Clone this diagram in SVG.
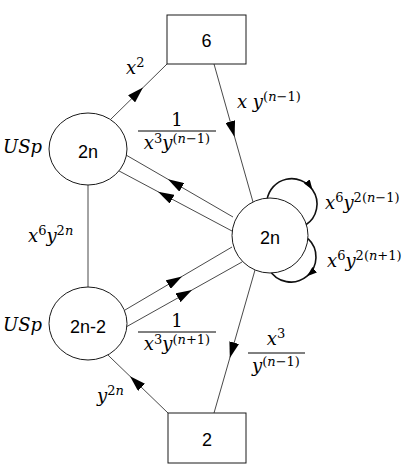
<svg xmlns="http://www.w3.org/2000/svg" width="415" height="476" viewBox="0 0 415 476">
<style>
.bg{fill:#fff}
.e{fill:none;stroke:#1a1a1a;stroke-width:0.8}
.lp{fill:none;stroke:#111;stroke-width:1.6}
.nd{fill:#fff;stroke:#1a1a1a;stroke-width:1}
.nt{font-family:"Liberation Sans",Arial,sans-serif;font-size:18px;fill:#000;text-anchor:middle}
.m{font-family:"DejaVu Serif",serif;font-size:18px;font-style:italic;fill:#000}
.u{font-style:normal}
.s{font-size:13px}
.fl{stroke:#000;stroke-width:1}
</style>
<defs>
<marker id="a" viewBox="0 0 16 10" refX="16" refY="5" markerWidth="16" markerHeight="10" markerUnits="userSpaceOnUse" orient="auto"><path d="M0,0 L16,5 L0,10 z" fill="#000"/></marker>
<marker id="b" viewBox="0 0 10 7" refX="10" refY="3.5" markerWidth="10" markerHeight="7" markerUnits="userSpaceOnUse" orient="auto"><path d="M0,0 L10,3.5 L0,7 z" fill="#000"/></marker>
</defs>
<rect class="bg" x="0" y="0" width="415" height="476"/>
<g id="connectors">
<path class="e" d="M111,119 L143,87.6 L167,64" marker-mid="url(#a)"/>
<path class="e" d="M214,64 L234.6,137 L253,202" marker-mid="url(#a)"/>
<path class="e" d="M233,217 L168,179.3 L126,155" marker-mid="url(#a)"/>
<path class="e" d="M232,231 L158,191.7 L118.4,170.6" marker-mid="url(#a)"/>
<path class="e" d="M125,310 L182,276.4 L232,247" marker-mid="url(#a)"/>
<path class="e" d="M126,327 L192,290 L242,262" marker-mid="url(#a)"/>
<path class="e" d="M255,270 L229.8,358 L214,413" marker-mid="url(#a)"/>
<path class="e" d="M168,413 L130,376.3 L107.8,354.9" marker-mid="url(#a)"/>
<path class="e" d="M88,185 L88,287"/>
<path class="lp" d="M267,200 A25,25 0 0 1 312.5,189.7 A25,25 0 0 1 305.6,225" marker-mid="url(#b)"/>
<path class="lp" d="M308,238.7 A25,25 0 0 1 307,276.2 A25,25 0 0 1 269,269.1" marker-mid="url(#b)"/>
</g>
<g id="n6"><rect class="nd" x="167" y="15" width="79" height="49"/><text class="nt" x="206.5" y="47">6</text></g>
<g id="n2"><rect class="nd" x="168" y="413" width="78" height="50"/><text class="nt" x="207" y="446">2</text></g>
<g id="usp1"><ellipse class="nd" cx="88" cy="149" rx="39" ry="36"/><text class="nt" x="88" y="158">2n</text></g>
<g id="usp2"><ellipse class="nd" cx="88" cy="323.5" rx="39" ry="36.5"/><text class="nt" x="88" y="333">2n-2</text></g>
<g id="n2nr"><ellipse class="nd" cx="270" cy="235.5" rx="38" ry="37.5"/><text class="nt" x="270" y="244">2n</text></g>
<g id="labels">
<text class="m" x="3" y="153">USp</text>
<text class="m" x="3" y="331">USp</text>
<text class="m" x="126" y="74">x<tspan class="s u" dy="-7">2</tspan></text>
<text class="m" x="237" y="108">x y<tspan class="s" dy="-7"><tspan class="u">(</tspan>n<tspan class="u">−1)</tspan></tspan></text>
<text class="m u" x="177" y="126" text-anchor="middle">1</text>
<line class="fl" x1="138" y1="131" x2="216" y2="131"/>
<text class="m" x="177" y="149" text-anchor="middle">x<tspan class="s u" dy="-6">3</tspan><tspan dy="6">y</tspan><tspan class="s" dy="-6"><tspan class="u">(</tspan>n<tspan class="u">−1)</tspan></tspan></text>
<text class="m" x="325" y="209">x<tspan class="s u" dy="-7">6</tspan><tspan dy="7">y</tspan><tspan class="s" dy="-7"><tspan class="u">2(</tspan>n<tspan class="u">−1)</tspan></tspan></text>
<text class="m" x="327" y="267">x<tspan class="s u" dy="-7">6</tspan><tspan dy="7">y</tspan><tspan class="s" dy="-7"><tspan class="u">2(</tspan>n<tspan class="u">+1)</tspan></tspan></text>
<text class="m" x="28" y="242">x<tspan class="s u" dy="-7">6</tspan><tspan dy="7">y</tspan><tspan class="s" dy="-7"><tspan class="u">2</tspan>n</tspan></text>
<text class="m u" x="177" y="327" text-anchor="middle">1</text>
<line class="fl" x1="138" y1="332" x2="216" y2="332"/>
<text class="m" x="177" y="350" text-anchor="middle">x<tspan class="s u" dy="-6">3</tspan><tspan dy="6">y</tspan><tspan class="s" dy="-6"><tspan class="u">(</tspan>n<tspan class="u">+1)</tspan></tspan></text>
<text class="m" x="276" y="345" text-anchor="middle">x<tspan class="s u" dy="-7">3</tspan></text>
<line class="fl" x1="248" y1="353" x2="305" y2="353"/>
<text class="m" x="276" y="372" text-anchor="middle">y<tspan class="s" dy="-6"><tspan class="u">(</tspan>n<tspan class="u">−1)</tspan></tspan></text>
<text class="m" x="97" y="402">y<tspan class="s" dy="-7"><tspan class="u">2</tspan>n</tspan></text>
</g>
</svg>
